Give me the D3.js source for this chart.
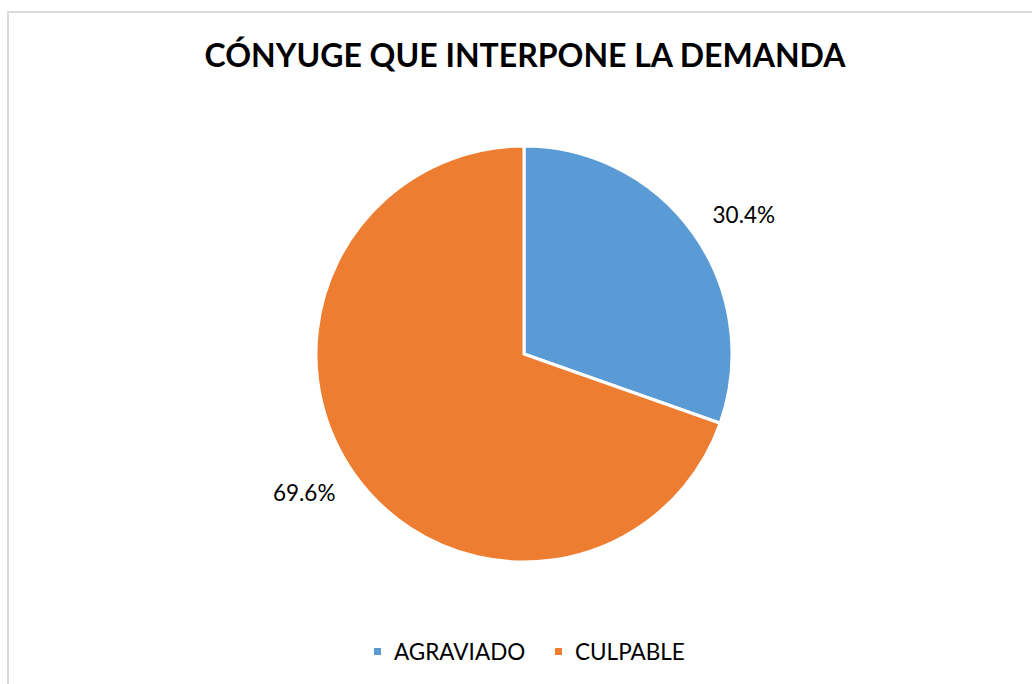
<html lang="es">
<head>
  <meta charset="utf-8">
  <title>Cónyuge que interpone la demanda</title>
  <script src="https://d3js.org/d3.v7.min.js"></script>
  <style>
    html, body { margin: 0; padding: 0; background: #fff; overflow: hidden; }
    svg { display: block; }
    text { font-family: Lato, "Open Sans", sans-serif; fill: #000; }
  </style>
</head>
<body>
  <svg width="1032" height="684"></svg>
  <script>
    const categories = ["AGRAVIADO", "CULPABLE"];
    const values = [30.4, 69.6];
    const colors = ["#5b9bd5", "#ed7d31"];
    const title = "CÓNYUGE QUE INTERPONE LA DEMANDA";

    const svg = d3.select("svg");
    const cx = 524, cy = 354, r = 208;

    // chart frame
    svg.append("rect")
      .attr("x", 8).attr("y", 12)
      .attr("width", 1040).attr("height", 700)
      .attr("fill", "none")
      .attr("stroke", "#d9d9d9")
      .attr("stroke-width", 2);

    svg.append("text")
      .attr("x", 525).attr("y", 67)
      .attr("text-anchor", "middle")
      .style("font-size", "32px")
      .style("font-weight", "bold")
      .text(title);

    const data = categories.map((c, i) => ({ name: c, value: values[i], color: colors[i] }));

    const pie = d3.pie().sort(null).value(d => d.value);
    const arcs = pie(data);
    const arc = d3.arc().innerRadius(0).outerRadius(r);

    const g = svg.append("g").attr("transform", `translate(${cx},${cy})`);

    g.selectAll("path")
      .data(arcs)
      .enter()
      .append("path")
      .attr("d", arc)
      .attr("fill", d => d.data.color)
      .attr("stroke", "#fff")
      .attr("stroke-width", 3)
      .attr("stroke-linejoin", "round");

    // labels sit just outside the slices, a little past the mid angle (like Excel best fit)
    const labelR = 260, shift = 3 * Math.PI / 180;
    g.selectAll(".lbl")
      .data(arcs)
      .enter()
      .append("text")
      .attr("class", "lbl")
      .attr("transform", d => {
        const a = (d.startAngle + d.endAngle) / 2 + shift;
        return `translate(${labelR * Math.sin(a)},${-labelR * Math.cos(a)})`;
      })
      .attr("text-anchor", "middle")
      .attr("dy", "0.35em")
      .style("font-size", "22.5px")
      .text(d => d.data.value.toFixed(1) + "%");

    // legend
    const legendX = [374, 555];
    const legend = svg.selectAll(".leg")
      .data(data)
      .enter()
      .append("g")
      .attr("class", "leg")
      .attr("transform", (d, i) => `translate(${legendX[i]},648)`);

    legend.append("rect")
      .attr("width", 7).attr("height", 7)
      .attr("fill", d => d.color);

    legend.append("text")
      .attr("x", 20).attr("y", 12)
      .style("font-size", "22.5px")
      .text(d => d.name);
  </script>
</body>
</html>
